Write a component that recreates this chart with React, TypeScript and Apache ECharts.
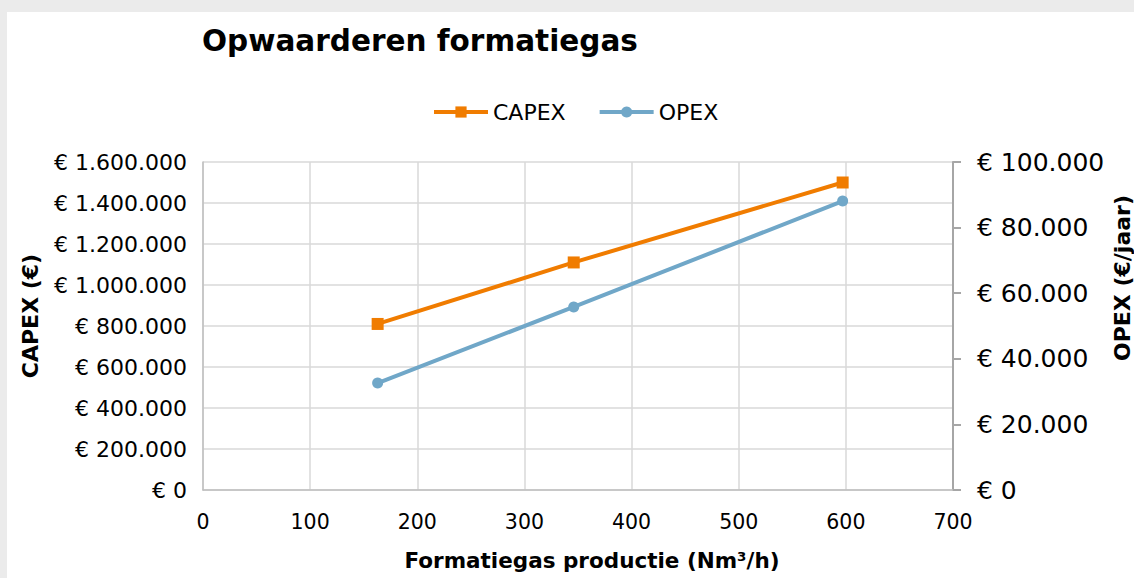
import React, { useEffect, useRef } from "react";
import * as echarts from "echarts";

const titleText = "Opwaarderen formatiegas";
const seriesNames = ["CAPEX", "OPEX"];
const productie = [163, 346, 597];
const capex = [810000, 1110000, 1500000];
const opex = [32600, 55800, 88100];
const xTicks = { min: 0, max: 700, interval: 100 };
const capexTicks = { min: 0, max: 1600000, interval: 200000 };
const opexTicks = { min: 0, max: 100000, interval: 20000 };
const xTitle = "Formatiegas productie (Nm³/h)";
const capexTitle = "CAPEX (€)";
const opexTitle = "OPEX (€/jaar)";

const fmtEuro = (v: number) =>
  "€ " + String(Math.round(v)).replace(/\B(?=(\d{3})+(?!\d))/g, ".");

export default function App() {
  const ref = useRef<HTMLDivElement>(null);
  useEffect(() => {
    document.body.style.margin = "0";
    const chart = echarts.init(ref.current!, undefined, { renderer: "svg" });
    const font = "DejaVu Sans";
    chart.setOption({
      animation: false,
      backgroundColor: "#ebebeb",
      title: {
        text: titleText,
        left: 197,
        top: 21,
        textStyle: { fontFamily: font, fontWeight: "bold", fontSize: 29.5, color: "#000" },
      },
      legend: {
        data: seriesNames,
        left: 427,
        top: 96,
        itemWidth: 54,
        itemHeight: 14,
        itemGap: 32,
        lineStyle: { width: 4 },
        textStyle: { fontFamily: font, fontSize: 22, color: "#000" },
      },
      grid: { left: 203, right: 181, top: 162, bottom: 88, containLabel: false },
      xAxis: {
        type: "value",
        min: xTicks.min,
        max: xTicks.max,
        interval: xTicks.interval,
        axisLine: { show: true, lineStyle: { color: "#bfbfbf", width: 1.5 } },
        axisTick: { show: false },
        splitLine: { show: true, lineStyle: { color: "#d9d9d9", width: 1.5 } },
        axisLabel: { margin: 21, fontFamily: font, fontSize: 20.5, color: "#000" },
      },
      yAxis: [
        {
          type: "value",
          position: "left",
          min: capexTicks.min,
          max: capexTicks.max,
          interval: capexTicks.interval,
          axisLine: { show: true, lineStyle: { color: "#bfbfbf", width: 1.5 } },
          axisTick: { show: false },
          splitLine: { show: true, lineStyle: { color: "#d9d9d9", width: 1.5 } },
          axisLabel: { margin: 16, fontFamily: font, fontSize: 22, color: "#000", formatter: fmtEuro },
        },
        {
          type: "value",
          position: "right",
          min: opexTicks.min,
          max: opexTicks.max,
          interval: opexTicks.interval,
          axisLine: { show: true, lineStyle: { color: "#a6a6a6", width: 2 } },
          axisTick: { show: true, length: 8, inside: false, lineStyle: { color: "#a6a6a6", width: 2 } },
          splitLine: { show: false },
          axisLabel: { margin: 24, fontFamily: font, fontSize: 25, color: "#000", formatter: fmtEuro },
        },
      ],
      graphic: [
        {
          type: "rect",
          z: -100,
          silent: true,
          shape: { x: 7, y: 12, width: 1127, height: 566 },
          style: { fill: "#ffffff" },
        },
        {
          type: "text",
          x: 592,
          y: 560,
          style: {
            text: xTitle,
            fontFamily: font,
            fontWeight: "bold",
            fontSize: 21.5,
            fill: "#000",
            align: "center",
            verticalAlign: "middle",
          },
        },
        {
          type: "text",
          x: 30,
          y: 316,
          rotation: Math.PI / 2,
          style: {
            text: capexTitle,
            fontFamily: font,
            fontWeight: "bold",
            fontSize: 22,
            fill: "#000",
            align: "center",
            verticalAlign: "middle",
          },
        },
        {
          type: "text",
          x: 1122,
          y: 278,
          rotation: Math.PI / 2,
          style: {
            text: opexTitle,
            fontFamily: font,
            fontWeight: "bold",
            fontSize: 22,
            fill: "#000",
            align: "center",
            verticalAlign: "middle",
          },
        },
      ],
      series: [
        {
          name: seriesNames[0],
          type: "line",
          yAxisIndex: 0,
          data: productie.map((x, i) => [x, capex[i]]),
          symbol: "rect",
          symbolSize: 12,
          itemStyle: { color: "#f07c00" },
          lineStyle: { color: "#f07c00", width: 4 },
        },
        {
          name: seriesNames[1],
          type: "line",
          yAxisIndex: 1,
          data: productie.map((x, i) => [x, opex[i]]),
          symbol: "circle",
          symbolSize: 11,
          itemStyle: { color: "#70a7c8" },
          lineStyle: { color: "#70a7c8", width: 4 },
        },
      ],
    });
    return () => chart.dispose();
  }, []);
  return <div ref={ref} style={{ width: 1134, height: 578 }} />;
}
